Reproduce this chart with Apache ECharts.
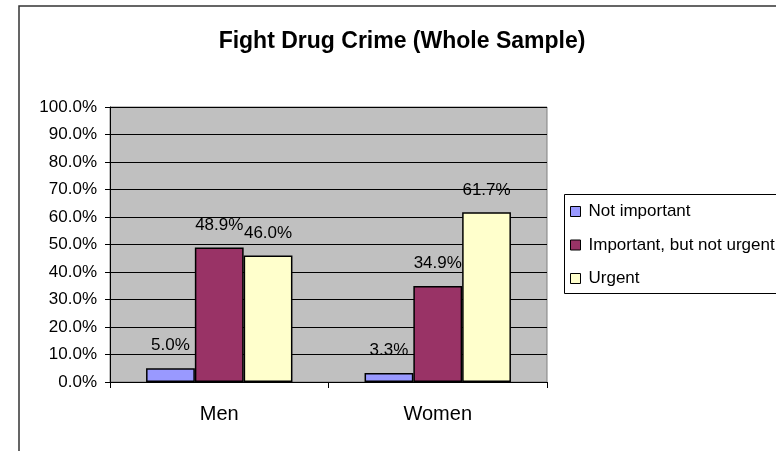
<!DOCTYPE html>
<html>
<head>
<meta charset="utf-8">
<script src="https://cdn.jsdelivr.net/npm/echarts@6/dist/echarts.min.js"></script>
<style>
html,body{margin:0;padding:0;background:#fff;}
#c{width:776px;height:451px;}
</style>
</head>
<body>
<div id="c"></div>
<script>
var titleText = 'Fight Drug Crime (Whole Sample)';
var categories = ['Men', 'Women'];
var seriesNames = ['Not important', 'Important, but not urgent', 'Urgent'];
var notImportant = [0.050, 0.033];
var importantNotUrgent = [0.489, 0.349];
var urgent = [0.460, 0.617];
var colors = ['#9999FF', '#993366', '#FFFFCC'];

var font = 'Liberation Sans, Arial, sans-serif';
function pct(v){ return (v*100).toFixed(1) + '%'; }

var dataSets = [notImportant, importantNotUrgent, urgent];
var series = dataSets.map(function(d, i){
  return {
    name: seriesNames[i],
    type: 'bar',
    data: d,
    barGap: '0%',
    barCategoryGap: '33%',
    itemStyle: {color: colors[i], borderColor: '#000', borderWidth: 1.5},
    label: {
      show: true, position: 'top', distance: 14,
      color: '#000', fontFamily: font, fontSize: 17,
      formatter: function(p){ return pct(p.value); }
    },
    emphasis: {disabled: true}
  };
});

var chart = echarts.init(document.getElementById('c'), null, {renderer: 'canvas'});
chart.setOption({
  animation: false,
  backgroundColor: '#fff',
  title: {
    text: titleText,
    left: 397, textAlign: 'center', top: 25,
    textStyle: {fontFamily: font, fontSize: 23, fontWeight: 'bold', color: '#000'}
  },
  graphic: [
    {type: 'rect', shape: {x: 19, y: 6, width: 820, height: 520}, style: {fill: 'none', stroke: '#333', lineWidth: 1.5}, silent: true, z: 100},
    {type: 'rect', shape: {x: 564.5, y: 194.5, width: 260, height: 99}, style: {fill: '#fff', stroke: '#000', lineWidth: 1}, silent: true, z: 0}
  ],
  legend: {
    orient: 'vertical',
    left: 570, top: 203, padding: 0,
    itemWidth: 10, itemHeight: 10, itemGap: 16.5,
    icon: 'rect',
    selectedMode: false,
    itemStyle: {borderColor: '#000', borderWidth: 1},
    textStyle: {fontFamily: font, fontSize: 17, color: '#000', padding: [0,0,0,3]},
    data: seriesNames,
    z: 10
  },
  grid: {
    left: 110, top: 107, right: 229, bottom: 69,
    show: true, backgroundColor: '#C0C0C0', borderColor: '#808080', borderWidth: 1,
    containLabel: false
  },
  xAxis: {
    type: 'category',
    data: categories,
    axisLine: {show: true, lineStyle: {color: '#000', width: 1}},
    axisTick: {show: true, alignWithLabel: false, length: 6, lineStyle: {color: '#000'}},
    axisLabel: {fontFamily: font, fontSize: 20, color: '#000', margin: 22},
    splitLine: {show: false}
  },
  yAxis: {
    type: 'value',
    min: 0, max: 1, interval: 0.1,
    axisLine: {show: true, lineStyle: {color: '#000', width: 1}},
    axisTick: {show: true, length: 5, lineStyle: {color: '#000'}},
    axisLabel: {fontFamily: font, fontSize: 17, color: '#000', margin: 13, formatter: function(v){ return pct(v); }},
    splitLine: {show: true, lineStyle: {color: '#000', width: 1}}
  },
  series: series
});
</script>
</body>
</html>
